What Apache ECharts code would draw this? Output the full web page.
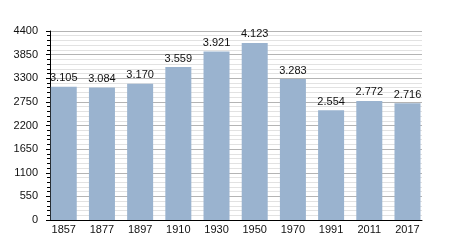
<!DOCTYPE html>
<html><head><meta charset="utf-8">
<script src="https://cdn.jsdelivr.net/npm/echarts@6/dist/echarts.min.js"></script>
<style>html,body{margin:0;padding:0;background:#fff}#c{width:450px;height:250px}</style>
</head><body><div id="c"></div>
<script>
var years = ['1857','1877','1897','1910','1930','1950','1970','1991','2011','2017'];
var population = [3105, 3084, 3170, 3559, 3921, 4123, 3283, 2554, 2772, 2716];
var yTicks = [0, 550, 1100, 1650, 2200, 2750, 3300, 3850, 4400];

var chart = echarts.init(document.getElementById('c'), null, {renderer: 'canvas'});
var idx = years.map(function(_, i){ return i; });
chart.setOption({
  animation: false,
  grid: {left: 50, right: 28, top: 31, bottom: 30},
  xAxis: {
    type: 'value', min: -0.36, max: 9.38,
    axisLine: {show: true, onZero: false, lineStyle: {color: '#000', width: 1}},
    axisTick: {show: false},
    splitLine: {show: false},
    axisLabel: {customValues: idx, formatter: function(v){ return years[Math.round(v)]; },
      color: '#111', fontSize: 11, fontFamily: 'Liberation Sans, Arial', margin: 4}
  },
  yAxis: {
    type: 'value', position: 'left', min: yTicks[0], max: yTicks[yTicks.length-1], interval: 550,
    axisLine: {show: true, onZero: false, lineStyle: {color: '#000', width: 1}},
    axisTick: {show: true, length: 4, lineStyle: {color: '#000'}},
    minorTick: {show: true, splitNumber: 5, length: 3, lineStyle: {color: '#000'}},
    splitLine: {show: true, lineStyle: {color: '#b4b4b4', width: 1}},
    minorSplitLine: {show: true, lineStyle: {color: '#e2e2e2', width: 1}},
    axisLabel: {color: '#111', fontSize: 11, fontFamily: 'Liberation Sans, Arial', margin: 12,
      formatter: function(v){ return String(v); }}
  },
  series: [{
    type: 'bar',
    barWidth: 26,
    data: population.map(function(v, i){ return [i, v]; }),
    itemStyle: {color: '#9ab3cf'},
    label: {show: true, position: 'top', distance: 3, color: '#111', fontSize: 11,
      fontFamily: 'Liberation Sans, Arial',
      formatter: function(p){ return String(p.value[1]).replace(/\B(?=(\d{3})+(?!\d))/g, '.'); }}
  }]
});
</script></body></html>
